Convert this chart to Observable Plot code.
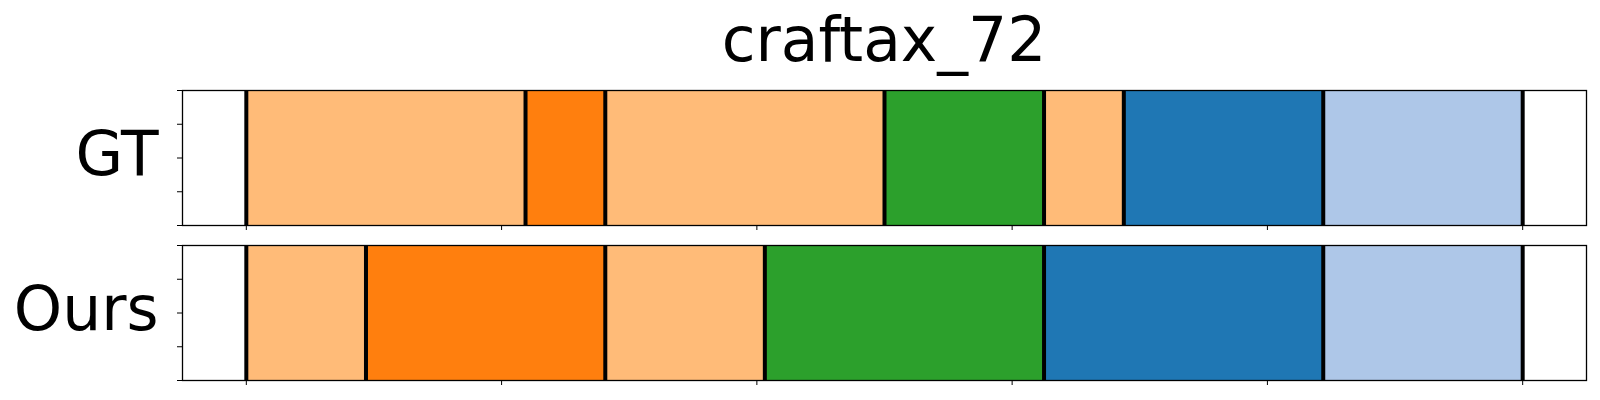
<!DOCTYPE html>
<html>
<head>
<meta charset="utf-8">
<script src="https://cdn.jsdelivr.net/npm/d3@7"></script>
<script src="https://cdn.jsdelivr.net/npm/@observablehq/plot@0.6"></script>
<style>
  html, body { margin: 0; padding: 0; background: #fff; }
  body { width: 1600px; height: 400px; overflow: hidden; font-family: "DejaVu Sans", sans-serif; color: #000; }
  #title { box-sizing: border-box; width: 1600px; height: 80px; line-height: 80px; padding-left: 182px; padding-right: 14px; text-align: center; font-size: 61.5px; white-space: nowrap; }
  #chart svg { display: block; }
</style>
</head>
<body>
<div id="title">craftax_72</div>
<div id="chart"></div>
<script>
// Panels (rows)
const panels = ["GT", "Ours"];
// Action classes and their colours
const classes = ["c0", "c1", "c2", "c3", "c4"];
const classColors = ["#ffbb78", "#ff7f0e", "#2ca02c", "#1f77b4", "#aec7e8"];
// Segment boundaries (normalized time) and segment classes
const gtBounds = [0, 0.21875, 0.28125, 0.5, 0.625, 0.6875, 0.84375, 1];
const gtClasses = ["c0", "c1", "c0", "c2", "c0", "c3", "c4"];
const oursBounds = [0, 0.09375, 0.28125, 0.40625, 0.625, 0.84375, 1];
const oursClasses = ["c0", "c1", "c0", "c2", "c3", "c4"];
// Axis ticks (unlabelled)
const xTicks = [0, 0.2, 0.4, 0.6, 0.8, 1];
const yTicks = [0, 0.25, 0.5, 0.75, 1];

function segs(panel, bounds, cls) {
  return cls.map((c, i) => ({panel, start: bounds[i], end: bounds[i + 1], cls: c}));
}
function rules(panel, bounds) {
  return bounds.map(x => ({panel, x}));
}
const segments = [...segs("GT", gtBounds, gtClasses), ...segs("Ours", oursBounds, oursClasses)];
const boundaries = [...rules("GT", gtBounds), ...rules("Ours", oursBounds)];

const chart = Plot.plot({
  width: 1600,
  height: 320,
  marginTop: 10,
  marginBottom: 20,
  marginLeft: 182,
  marginRight: 14,
  style: {fontFamily: "DejaVu Sans", color: "#000", background: "#fff"},
  x: {domain: [-0.05, 1.05], label: null},
  y: {domain: [0, 1], label: null},
  fy: {domain: panels, paddingInner: 40 / 310, paddingOuter: 0, round: false, label: null},
  color: {domain: classes, range: classColors},
  marks: [
    Plot.rect(segments, {x1: "start", x2: "end", fy: "panel", fill: "cls"}),
    Plot.ruleX(boundaries, {x: "x", fy: "panel", stroke: "#000", strokeWidth: 4}),
    Plot.frame({stroke: "#000", strokeWidth: 1.3}),
    Plot.axisY({ticks: yTicks, tickFormat: () => "", tickSize: 5, label: null}),
    Plot.axisX({ticks: xTicks, tickFormat: () => "", tickSize: 5, label: null, facetAnchor: null}),
    Plot.axisFy({anchor: "left", label: null, fontSize: 61.5, tickSize: 0, tickPadding: 24, dy: -3})
  ]
});
document.getElementById("chart").appendChild(chart);
</script>
</body>
</html>
